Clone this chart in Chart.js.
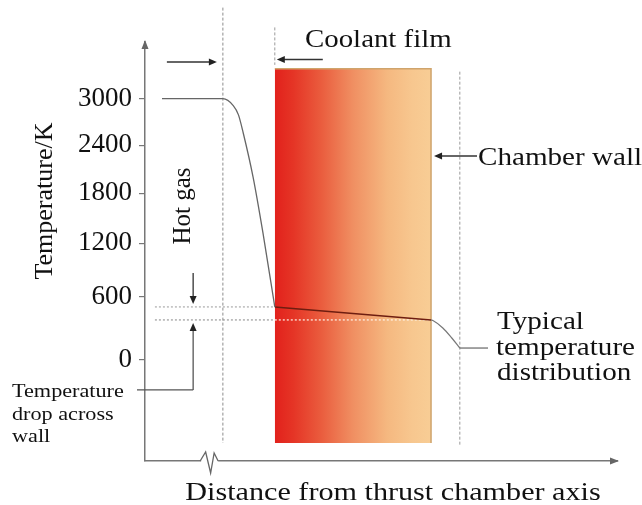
<!DOCTYPE html>
<html><head><meta charset="utf-8">
<script src="https://cdn.jsdelivr.net/npm/chart.js@4/dist/chart.umd.min.js"></script>
<style>html,body{margin:0;padding:0;background:#fff;}#wrap{width:642px;height:505px;}</style>
</head><body><div id="wrap"><canvas id="c" width="642" height="505"></canvas></div>
<script>
// ---------------- data ----------------
const yTickValues = [0, 600, 1200, 1800, 2400, 3000];
const yTickLabels = ['0', '600', '1200', '1800', '2400', '3000'];
// temperature profile: distance (arbitrary units) vs temperature (K)
const gasDistance = [3.6, 16.5, 18.7, 19.8, 20.8, 22.9, 25.0, 27.5];
const gasTemp     = [3000, 3000, 2910, 2790, 2560, 2000, 1320, 490];
const wallDistance = [27.5, 60.6];
const wallTemp     = [490, 356];
const coolantDistance = [60.6, 61.0, 63.1, 65.0, 66.7];
const coolantTemp     = [356, 350, 276, 180, 90];
// schematic geometry (distance units / K)
const gasEdge = 16.5, wallInner = 27.5, wallOuter = 60.6, outerEdge = 66.7;
const wallTop = 3392, wallBottom = -815;
const innerWallTemp = 490, outerWallTemp = 356;
const levelStart = 2.1;
const gasLineSpan = [4214, -815];
const filmLineSpan = [3946, 3445];
const outerLineSpan = [3355, -848];
const xRange = [0, 100], yRange = [-1019, 3750];

// --------------- scale -----------------
const Lin = Chart.LinearScale || Chart.registry.getScale('linear');
const POW = 0.88;
const tf = v => Math.sign(v) * Math.pow(Math.abs(v), POW);
const itf = t => Math.sign(t) * Math.pow(Math.abs(t), 1 / POW);
class SchematicScale extends Lin {
  getPixelForValue(v) {
    if (v === null || v === undefined || isNaN(v)) return NaN;
    const a = tf(this.min), b = tf(this.max);
    return this.getPixelForDecimal((tf(v) - a) / (b - a));
  }
  getValueForPixel(p) {
    const a = tf(this.min), b = tf(this.max);
    return itf(a + this.getDecimalForPixel(p) * (b - a));
  }
}
SchematicScale.id = 'schematic';
SchematicScale.defaults = {};
Chart.register(SchematicScale);

const pts = (xs, ys) => xs.map((x, i) => ({x, y: ys[i]}));
const SERIF = '"Liberation Serif", "Times New Roman", serif';
Chart.defaults.font.family = SERIF;
Chart.defaults.color = '#111';

function head(ctx, tx, ty, dx, dy, len, hw) {
  const bx = tx - dx * len, by = ty - dy * len, px = -dy, py = dx;
  ctx.beginPath(); ctx.moveTo(tx, ty);
  ctx.lineTo(bx + px * hw, by + py * hw); ctx.lineTo(bx - px * hw, by - py * hw);
  ctx.closePath(); ctx.fill();
}
function arrow(ctx, x1, y1, x2, y2, len, hw) {
  len = len || 8; hw = hw || 3.5;
  const d = Math.hypot(x2 - x1, y2 - y1), dx = (x2 - x1) / d, dy = (y2 - y1) / d;
  ctx.beginPath(); ctx.moveTo(x1, y1); ctx.lineTo(x2 - dx * len * 0.7, y2 - dy * len * 0.7); ctx.stroke();
  head(ctx, x2, y2, dx, dy, len, hw);
}
function txt(ctx, s, x, y, size, sx, align) {
  ctx.save(); ctx.translate(x, y); ctx.scale(sx, 1);
  ctx.font = size + 'px ' + SERIF; ctx.textAlign = align || 'left'; ctx.textBaseline = 'alphabetic';
  ctx.fillStyle = '#111'; ctx.fillText(s, 0, 0); ctx.restore();
}
function vtxt(ctx, s, x, y, size) {
  ctx.save(); ctx.translate(x, y); ctx.rotate(-Math.PI / 2);
  ctx.font = size + 'px ' + SERIF; ctx.textAlign = 'center'; ctx.textBaseline = 'alphabetic';
  ctx.fillStyle = '#111'; ctx.fillText(s, 0, 0); ctx.restore();
}

const textItems = [
  {t: 'Coolant film', x: 305, y: 47, size: 26, sx: 1.11},
  {t: 'Chamber wall', x: 478, y: 165, size: 26, sx: 1.12},
  {t: 'Typical', x: 497, y: 329, size: 26, sx: 1.12},
  {t: 'temperature', x: 496, y: 355, size: 26, sx: 1.12},
  {t: 'distribution', x: 497, y: 380, size: 26, sx: 1.12},
  {t: 'Temperature', x: 12, y: 397, size: 18.5, sx: 1.2},
  {t: 'drop across', x: 12, y: 420, size: 18.5, sx: 1.2},
  {t: 'wall', x: 12, y: 442, size: 18.5, sx: 1.2},
  {t: 'Distance from thrust chamber axis', x: 393, y: 500, size: 26, sx: 1.16, align: 'center'}
];

const annotate = {
  id: 'annotate',
  afterDraw(chart) {
    const ctx = chart.ctx, xs = chart.scales.x, ys = chart.scales.y, ca = chart.chartArea;
    const X = v => xs.getPixelForValue(v), Y = v => ys.getPixelForValue(v);
    ctx.save();
    // axis arrowheads
    ctx.fillStyle = '#666';
    head(ctx, ca.left, ca.top - 2, 0, -1, 9, 3.5);
    head(ctx, ca.right + 2, ca.bottom, 1, 0, 9, 3.5);
    // axis break
    const bx = X(13.8), by = ca.bottom;
    ctx.fillStyle = '#fff'; ctx.fillRect(bx - 9, by - 2, 17, 4);
    ctx.strokeStyle = '#666'; ctx.lineWidth = 1.3;
    ctx.beginPath(); ctx.moveTo(bx - 10, by); ctx.lineTo(bx - 4.5, by - 9); ctx.lineTo(bx + 0.5, by + 12);
    ctx.lineTo(bx + 4, by - 8); ctx.lineTo(bx + 8, by); ctx.stroke();
    // arrows
    ctx.strokeStyle = '#333'; ctx.fillStyle = '#222'; ctx.lineWidth = 1.3;
    arrow(ctx, X(gasEdge) - 56, 62, X(gasEdge) - 6, 62);
    arrow(ctx, X(wallInner) + 48, 59.5, X(wallInner) + 2, 59.5);
    arrow(ctx, 477, 156, X(wallOuter) + 3, 156);
    // temperature drop arrows
    const ax = X(10.2);
    arrow(ctx, ax, Y(860), ax, Y(innerWallTemp) - 3);
    ctx.strokeStyle = '#555';
    ctx.beginPath(); ctx.moveTo(X(-1.7), Y(-256)); ctx.lineTo(ax, Y(-256)); ctx.stroke();
    arrow(ctx, ax, Y(-256), ax, Y(outerWallTemp) + 3);
    // leader to typical distribution label
    const lastT = coolantTemp[coolantTemp.length - 1];
    ctx.strokeStyle = '#666'; ctx.lineWidth = 1.2;
    ctx.beginPath(); ctx.moveTo(X(outerEdge), Y(lastT)); ctx.lineTo(488, Y(lastT)); ctx.stroke();
    // texts
    textItems.forEach(o => txt(ctx, o.t, o.x, o.y, o.size, o.sx, o.align));
    vtxt(ctx, 'Temperature/K', 52, 201, 26);
    vtxt(ctx, 'Hot gas', 190, 206, 25);
    ctx.restore();
  }
};

const wallGradient = (c) => {
  const ch = c.chart;
  if (!ch.chartArea || !ch.scales.x) return '#ee8855';
  const x0 = ch.scales.x.getPixelForValue(wallInner), x1 = ch.scales.x.getPixelForValue(wallOuter);
  const g = ch.ctx.createLinearGradient(x0, 0, x1, 0);
  g.addColorStop(0, '#e2211c');
  g.addColorStop(0.12, '#e53526');
  g.addColorStop(0.3, '#ea5d3e');
  g.addColorStop(0.5, '#f08f62');
  g.addColorStop(0.72, '#f5b880');
  g.addColorStop(0.88, '#f7c78f');
  g.addColorStop(1, '#f8cd95');
  return g;
};

const dotted = (data, color, dash, extra) => Object.assign({
  data, borderColor: color, borderWidth: 1, borderDash: dash, pointRadius: 0,
  fill: false, clip: false, order: 2
}, extra || {});

new Chart(document.getElementById('c'), {
  type: 'line',
  data: {
    datasets: [
      {label: 'Hot gas', data: pts(gasDistance, gasTemp), borderColor: '#666', borderWidth: 1.3,
       cubicInterpolationMode: 'monotone', pointRadius: 0, fill: false, order: 0},
      {label: 'Wall', data: pts(wallDistance, wallTemp), borderColor: '#6e1d10', borderWidth: 1.6,
       pointRadius: 0, fill: false, order: 0},
      {label: 'Coolant', data: pts(coolantDistance, coolantTemp), borderColor: '#777', borderWidth: 1.2,
       cubicInterpolationMode: 'monotone', pointRadius: 0, fill: false, order: 0, clip: false},
      dotted(pts([gasEdge, gasEdge], gasLineSpan), '#8c8c8c', [3, 2]),
      dotted(pts([wallInner, wallInner], filmLineSpan), '#9a9a9a', [3, 2]),
      dotted(pts([outerEdge, outerEdge], outerLineSpan), '#9a9a9a', [3, 2]),
      dotted(pts([levelStart, wallInner], [innerWallTemp, innerWallTemp]), '#9a9a9a', [2, 2]),
      dotted(pts([levelStart, wallInner, wallOuter], [outerWallTemp, outerWallTemp, outerWallTemp]), '#9a9a9a', [2, 2],
        {borderWidth: 1.2, segment: {borderColor: c => c.p0DataIndex >= 1 ? 'rgba(255,245,235,1)' : '#9a9a9a'}}),
      {label: 'Chamber wall', data: pts([wallInner, wallOuter, wallOuter], [wallTop, wallTop, wallBottom]),
       borderColor: '#cfa46c', borderWidth: 1.5, pointRadius: 0, fill: {value: wallBottom},
       backgroundColor: wallGradient, order: 5}
    ]
  },
  options: {
    responsive: false, animation: false, devicePixelRatio: 1,
    layout: {padding: {top: 42, right: 25, left: 0, bottom: 0}},
    plugins: {legend: {display: false}, tooltip: {enabled: false}},
    scales: {
      x: {type: 'linear', min: xRange[0], max: xRange[1], bounds: 'data',
          ticks: {display: false}, grid: {display: false},
          border: {display: true, color: '#777', width: 1.5},
          afterFit: s => { s.height = 44; }},
      y: {type: 'schematic', min: yRange[0], max: yRange[1], bounds: 'data',
          afterBuildTicks: s => { s.ticks = yTickValues.map(v => ({value: v})); },
          ticks: {padding: 7, font: {size: 27, family: SERIF}, color: '#111',
                  callback: v => { const i = yTickValues.indexOf(v); return i >= 0 ? yTickLabels[i] : ''; }},
          grid: {display: true, drawOnChartArea: false, drawTicks: true, tickLength: 6, color: '#777', lineWidth: 1.2},
          border: {display: true, color: '#777', width: 1.5},
          afterFit: s => { s.width = 145; }}
    }
  },
  plugins: [annotate]
});
</script></body></html>
